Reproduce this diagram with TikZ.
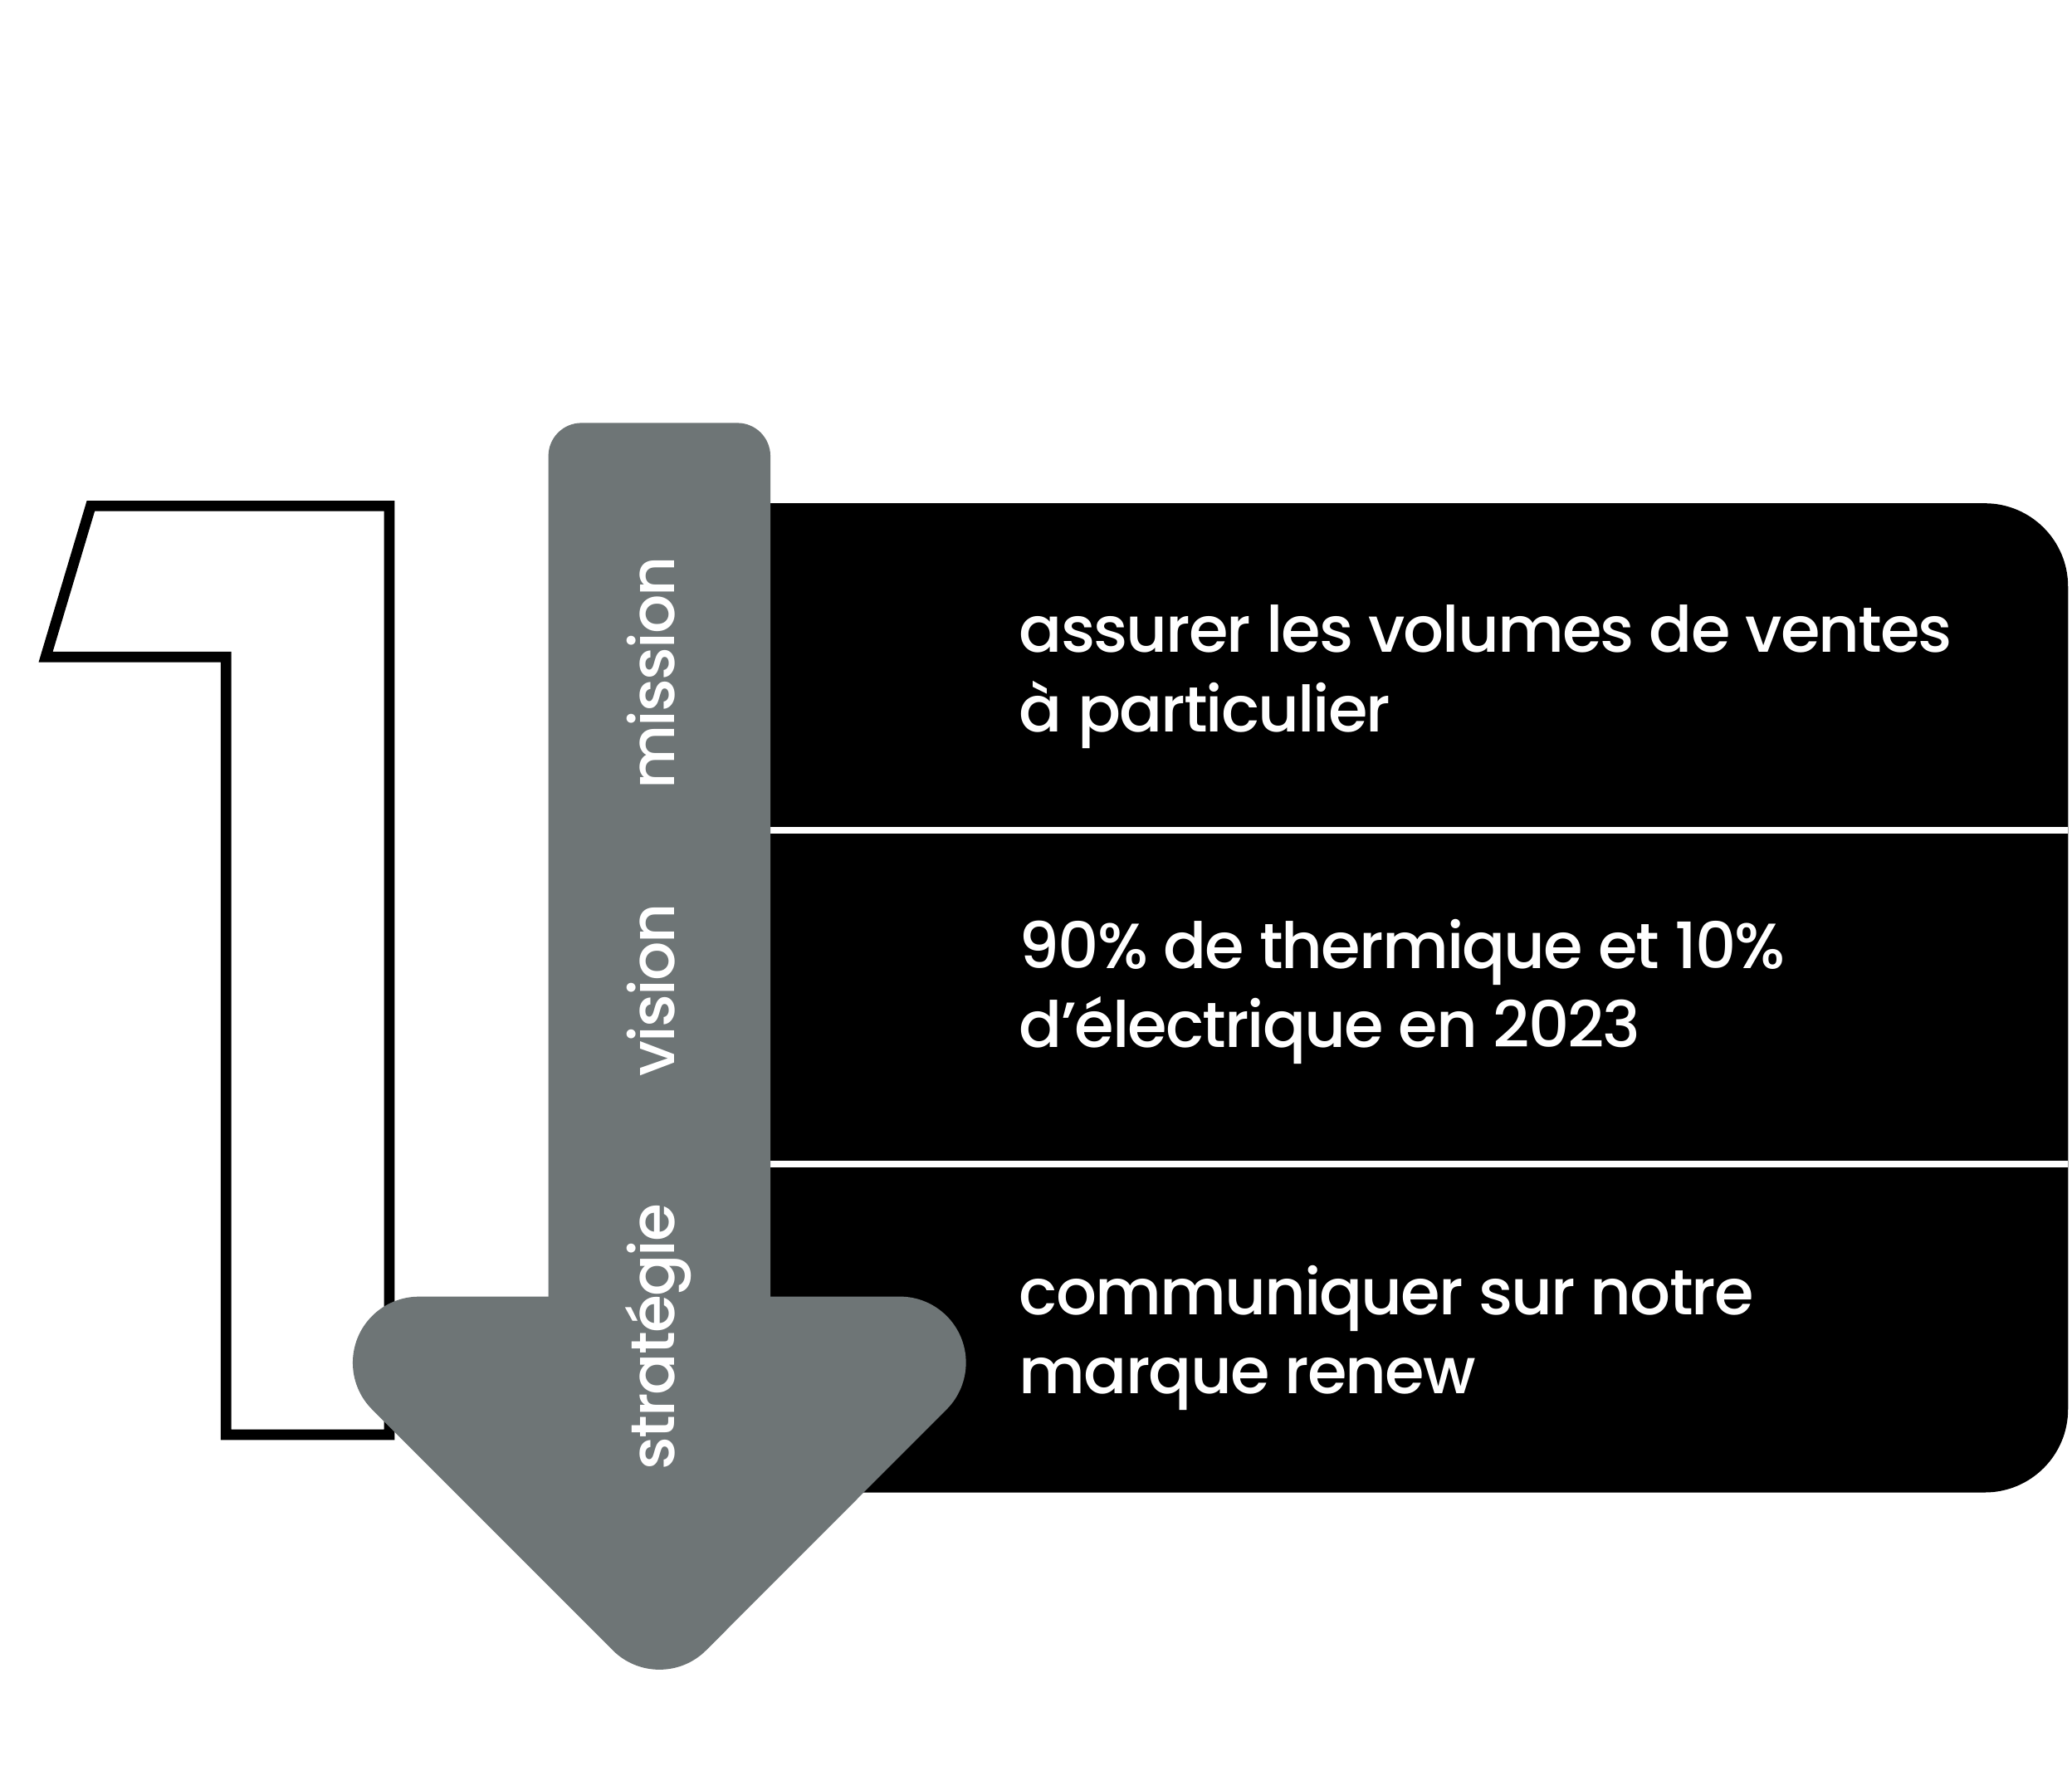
\documentclass[tikz,border=0pt]{standalone}
\usepackage{fontspec}
\setmainfont{Poppins Medium}[LetterSpace=-2.5]
\usepackage{xcolor}
\usepackage{tikz}

\definecolor{arrowgray}{RGB}{110,117,118}

\begin{document}
\begin{tikzpicture}[x=0.2mm, y=-0.2mm,
box/.style={fill=black},
sep/.style={draw=white, line width=1mm},
digit/.style={draw=black, line width=1.6mm, line join=miter},
arrowbody/.style={fill=arrowgray},
lbl/.style={text=white, font=\fontsize{26.6}{30}\selectfont, rotate=90, anchor=base, inner sep=0pt},
txt/.style={text=white, font=\fontsize{27.5}{34.1}\selectfont, align=left, anchor=base west, inner sep=0pt}
]
\useasboundingbox (0,0) rectangle (1568,1335.6);

% black panel with the three rows
\fill[box] (500,380.8) -- (1502,380.8) arc[start angle=-90, end angle=0, radius=63]
  -- (1565,1066.2) arc[start angle=0, end angle=90, radius=63] -- (500,1129.2) -- cycle;
\draw[sep] (500,628.3) -- (1565,628.3);
\draw[sep] (500,880.8) -- (1565,880.8);

% outlined one
\draw[digit] (68.7,382.8) -- (294.6,382.8) -- (294.6,1085.5) -- (171.1,1085.5)
  -- (171.1,497) -- (34.6,497) -- cycle;

% arrow
\fill[arrowbody, rounded corners=5mm] (415,320) rectangle (583,1050);
\fill[arrowbody] (317,981) -- (681,981) arc[start angle=-90, end angle=45, radius=50]
  -- (534.4,1248.6) arc[start angle=45, end angle=135, radius=50]
  -- (281.6,1066.4) arc[start angle=135, end angle=270, radius=50] -- cycle;

\node[lbl](lbl_mission) at (510.3,509) {mission};
\node[lbl](lbl_vision) at (510.3,749) {vision};
\node[lbl](lbl_strategie) at (510.3,1011.5) {stratégie};

% base anchor sits on the last line
\node[txt](txt_mission) at (771,553.6) {assurer les volumes de ventes\\à particulier};
\node[txt](txt_vision) at (771,792.6) {90\% de thermique et 10\%\\d’électrique en 2023};
\node[txt](txt_strategie) at (771,1054.6) {communiquer sur notre\\marque renew};

\end{tikzpicture}
\end{document}
